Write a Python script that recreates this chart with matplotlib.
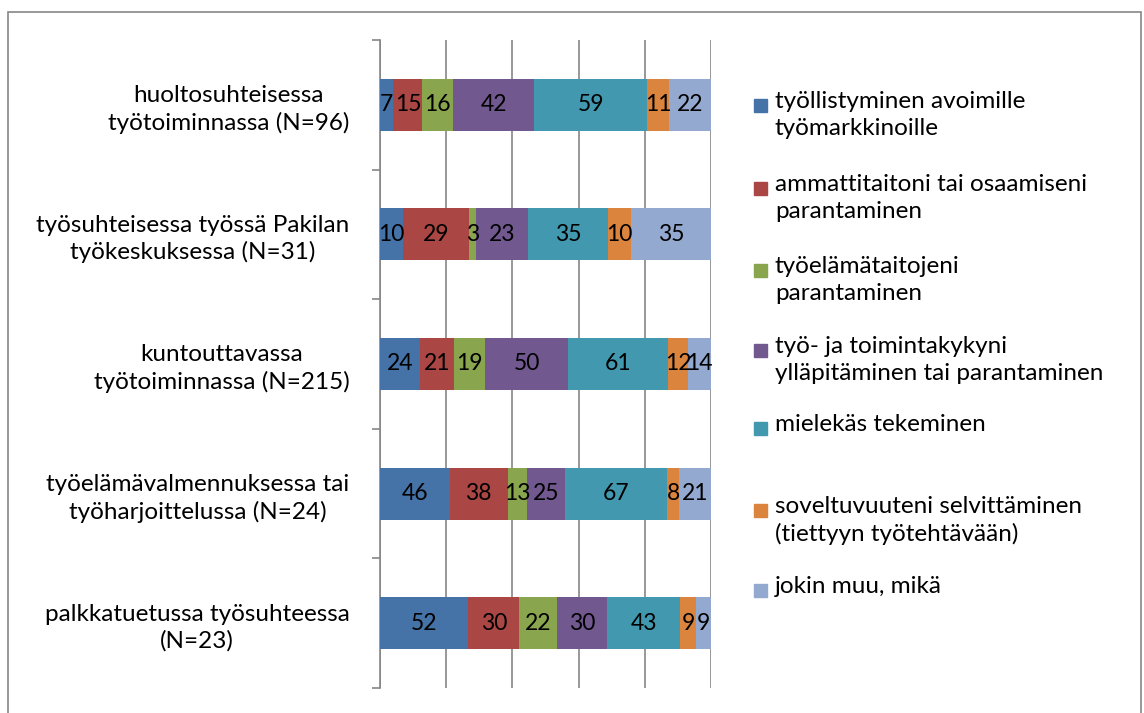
import matplotlib.pyplot as plt
import numpy as np
from matplotlib.patches import Rectangle

plt.rcParams['font.family'] = ['Lato', 'DejaVu Sans']

# Kategorier (uppifrån och ner) och värden per serie
kategorier = ["huoltosuhteisessa\ntyötoiminnassa (N=96)",
              "työsuhteisessa työssä Pakilan\ntyökeskuksessa (N=31)",
              "kuntouttavassa\ntyötoiminnassa (N=215)",
              "työelämävalmennuksessa tai\ntyöharjoittelussa (N=24)",
              "palkkatuetussa työsuhteessa\n(N=23)"]

serier = ["työllistyminen avoimille\ntyömarkkinoille",
          "ammattitaitoni tai osaamiseni\nparantaminen",
          "työelämätaitojeni\nparantaminen",
          "työ- ja toimintakykyni\nylläpitäminen tai parantaminen",
          "mielekäs tekeminen",
          "soveltuvuuteni selvittäminen\n(tiettyyn työtehtävään)",
          "jokin muu, mikä"]

tyollistyminen = [7, 10, 24, 46, 52]
ammattitaito = [15, 29, 21, 38, 30]
tyoelamataidot = [16, 3, 19, 13, 22]
toimintakyky = [42, 23, 50, 25, 30]
mielekas = [59, 35, 61, 67, 43]
soveltuvuus = [11, 10, 12, 8, 9]
muu = [22, 35, 14, 21, 9]

farger = ['#4572A7', '#AA4643', '#89A54E', '#71588F', '#4198AF', '#DB843D', '#93A9CF']

data = np.array([tyollistyminen, ammattitaito, tyoelamataidot, toimintakyky,
                 mielekas, soveltuvuus, muu], dtype=float)
summa = data.sum(axis=0)
andel = data / summa * 100

W, H = 1144, 713
fig = plt.figure(figsize=(W / 100, H / 100), dpi=100)
ax = fig.add_axes([380 / W, 1 - 688 / H, 331 / W, 648 / H])

y = np.arange(len(kategorier))
vanster = np.zeros(len(kategorier))
for i in range(len(serier)):
    ax.barh(y, andel[i], left=vanster, height=0.4, color=farger[i], zorder=3)
    for j in range(len(kategorier)):
        ax.text(vanster[j] + andel[i, j] / 2, y[j], str(int(data[i, j])),
                ha='center', va='center', fontsize=16.5, color='black', zorder=4)
    vanster += andel[i]

ax.set_xlim(0, 100)
ax.set_ylim(len(kategorier) - 0.5, -0.5)
ax.set_xticks([0, 20, 40, 60, 80, 100])
ax.tick_params(axis='x', length=0, labelbottom=False)
ax.grid(axis='x', color='#868686', linewidth=1.2, zorder=0)

# streck vid kategorigränserna, etiketter i mitten
ax.set_yticks(np.arange(-0.5, len(kategorier), 1))
ax.set_yticklabels([])
ax.set_yticks(y, minor=True)
ax.set_yticklabels(kategorier, minor=True, fontsize=17.5, multialignment='center',
                   linespacing=1.3)
ax.tick_params(axis='y', which='major', length=6, color='#868686', width=1.2)
ax.tick_params(axis='y', which='minor', length=0, pad=22)

for s in ['top', 'right', 'bottom']:
    ax.spines[s].set_visible(False)
ax.spines['left'].set_color('#868686')
ax.spines['left'].set_linewidth(1.2)

# förklaring ritad för hand så att rutan står vid första raden
leg_y = [105, 188, 270, 350, 428, 510, 590]
for i in range(len(serier)):
    fig.patches.append(Rectangle((754 / W, 1 - (leg_y[i] + 7) / H), 13 / W, 13 / H,
                                 transform=fig.transFigure, color=farger[i]))
    fig.text(775 / W, 1 - (leg_y[i] - 14) / H, serier[i], fontsize=17.5,
             ha='left', va='top', linespacing=1.35)

# ram runt hela diagrammet
fig.patches.append(Rectangle((8 / W, -0.05), 1133 / W, 1 - 12 / H + 0.05,
                             transform=fig.transFigure, fill=False,
                             edgecolor='#868686', linewidth=1.2))

fig.savefig("out.png", dpi=100)
